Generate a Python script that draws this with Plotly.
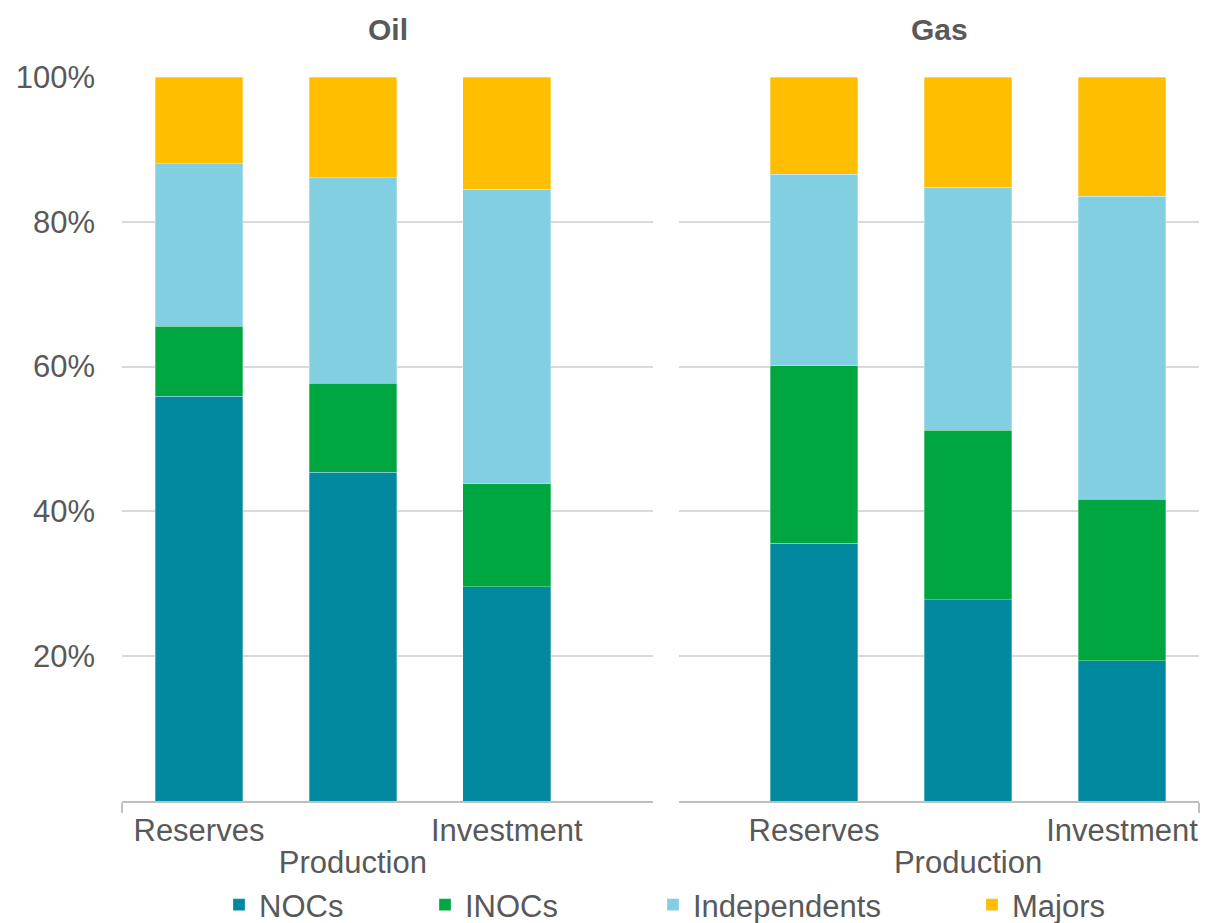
import plotly.graph_objects as go

categories = ["Reserves", "Production", "Investment"]
panels = ["Oil", "Gas"]
series_names = ["NOCs", "INOCs", "Independents", "Majors"]
colors = ["#02889F", "#00A63F", "#83CFE2", "#FFBE00"]

oil_nocs = [55.9, 45.4, 29.6]
oil_inocs = [9.7, 12.3, 14.2]
oil_independents = [22.4, 28.4, 40.7]
oil_majors = [12.0, 13.9, 15.5]

gas_nocs = [35.6, 27.8, 19.4]
gas_inocs = [24.5, 23.4, 22.3]
gas_independents = [26.5, 33.6, 41.8]
gas_majors = [13.4, 15.2, 16.5]

y_tickvals = [20, 40, 60, 80, 100]
y_ticktext = ["20%", "40%", "60%", "80%", "100%"]

oil = [oil_nocs, oil_inocs, oil_independents, oil_majors]
gas = [gas_nocs, gas_inocs, gas_independents, gas_majors]

W, H = 1207, 923
FONT = "Arial, Liberation Sans, sans-serif"
TXT = "#595959"
GRID = "#D9D9D9"
AXL = "#BFBFBF"

xpos = list(range(len(categories)))
upper_idx = [0, 2]   # first row of staggered labels
lower_idx = [1]      # second row

fig = go.Figure()
legends = ["legend", "legend2", "legend3", "legend4"]
for i, name in enumerate(series_names):
    fig.add_trace(go.Bar(x=xpos, y=oil[i], name=name,
                         marker=dict(color=colors[i], line=dict(width=0.6, color="rgba(255,255,255,0.5)")),
                         width=0.57, xaxis="x", yaxis="y", legend=legends[i], showlegend=True))
    fig.add_trace(go.Bar(x=xpos, y=gas[i], name=name,
                         marker=dict(color=colors[i], line=dict(width=0.6, color="rgba(255,255,255,0.5)")),
                         width=0.57, xaxis="x2", yaxis="y2", showlegend=False))

# invisible carriers so the second-row label axes are drawn
for xa, ya, vals in [("x3", "y", oil_nocs), ("x4", "y2", gas_nocs)]:
    fig.add_trace(go.Scatter(x=lower_idx, y=[vals[j] for j in lower_idx], xaxis=xa, yaxis=ya,
                             mode="markers", marker=dict(opacity=0), showlegend=False, hoverinfo="skip"))

ydom = [(H - 801) / H, (H - 77) / H]
xdom1 = [122 / W, 653 / W]
xdom2 = [679 / W, 1199 / W]
xr1 = [-0.5, 2.95]
xr2 = [-0.877, 2.5]

tickfont = dict(family=FONT, size=31, color=TXT)

def xaxis_main(dom, rng, anchor, edge):
    return dict(domain=dom, range=rng, anchor=anchor, showgrid=False, zeroline=False, automargin=False,
                showline=True, linecolor=AXL, linewidth=1.5,
                tickmode="array", tickvals=upper_idx, ticktext=[categories[j] for j in upper_idx],
                ticks="outside", ticklen=1, tickcolor="rgba(0,0,0,0)", tickfont=tickfont,
                minor=dict(tickmode="array", tickvals=[edge], ticks="outside", ticklen=10, tickcolor=AXL, tickwidth=1.5),
                fixedrange=True)

def xaxis_second(dom, rng, overlay, anchor):
    return dict(domain=dom, range=rng, overlaying=overlay, anchor=anchor, showgrid=False, zeroline=False,
                showline=False, side="bottom", automargin=False,
                tickmode="array", tickvals=lower_idx, ticktext=[categories[j] for j in lower_idx],
                ticks="outside", ticklen=34, tickcolor="rgba(0,0,0,0)", tickfont=tickfont, fixedrange=True)

yax = dict(domain=ydom, range=[0, 100], showgrid=True, gridcolor=GRID, gridwidth=1.5, zeroline=False,
           automargin=False, fixedrange=True,
           tickmode="array", tickvals=y_tickvals, ticktext=y_ticktext, tickfont=tickfont, showline=False)

fig.update_layout(
    width=W, height=H, margin=dict(l=0, r=0, t=0, b=0, autoexpand=False),
    paper_bgcolor="white", plot_bgcolor="white", barmode="stack",
    font=dict(family=FONT, color=TXT),
    xaxis=xaxis_main(xdom1, xr1, "y", -0.5),
    xaxis2=xaxis_main(xdom2, xr2, "y2", 2.5),
    xaxis3=xaxis_second(xdom1, xr1, "x", "y"),
    xaxis4=xaxis_second(xdom2, xr2, "x2", "y2"),
    yaxis=dict(yax, anchor="x", ticklabelstandoff=26),
    yaxis2=dict(yax, anchor="x2", showticklabels=False),
)

leg_x = [219, 425, 653, 972]
for lg, lx in zip(legends, leg_x):
    fig.update_layout({lg: dict(orientation="h", xref="container", yref="container",
                                x=lx / W, xanchor="left", y=(H - 905) / H, yanchor="middle",
                                font=dict(family=FONT, size=31, color=TXT), bgcolor="rgba(0,0,0,0)")})

for p, dom in zip(panels, [xdom1, xdom2]):
    fig.add_annotation(text="<b>%s</b>" % p, xref="paper", yref="paper", x=(dom[0] + dom[1]) / 2, y=(H - 30) / H,
                       xanchor="center", yanchor="middle", showarrow=False,
                       font=dict(family=FONT, size=30, color=TXT))

fig.write_html("out.html", config={"displayModeBar": False},
               post_script="document.body.style.margin='0';document.body.style.overflow='hidden';")
